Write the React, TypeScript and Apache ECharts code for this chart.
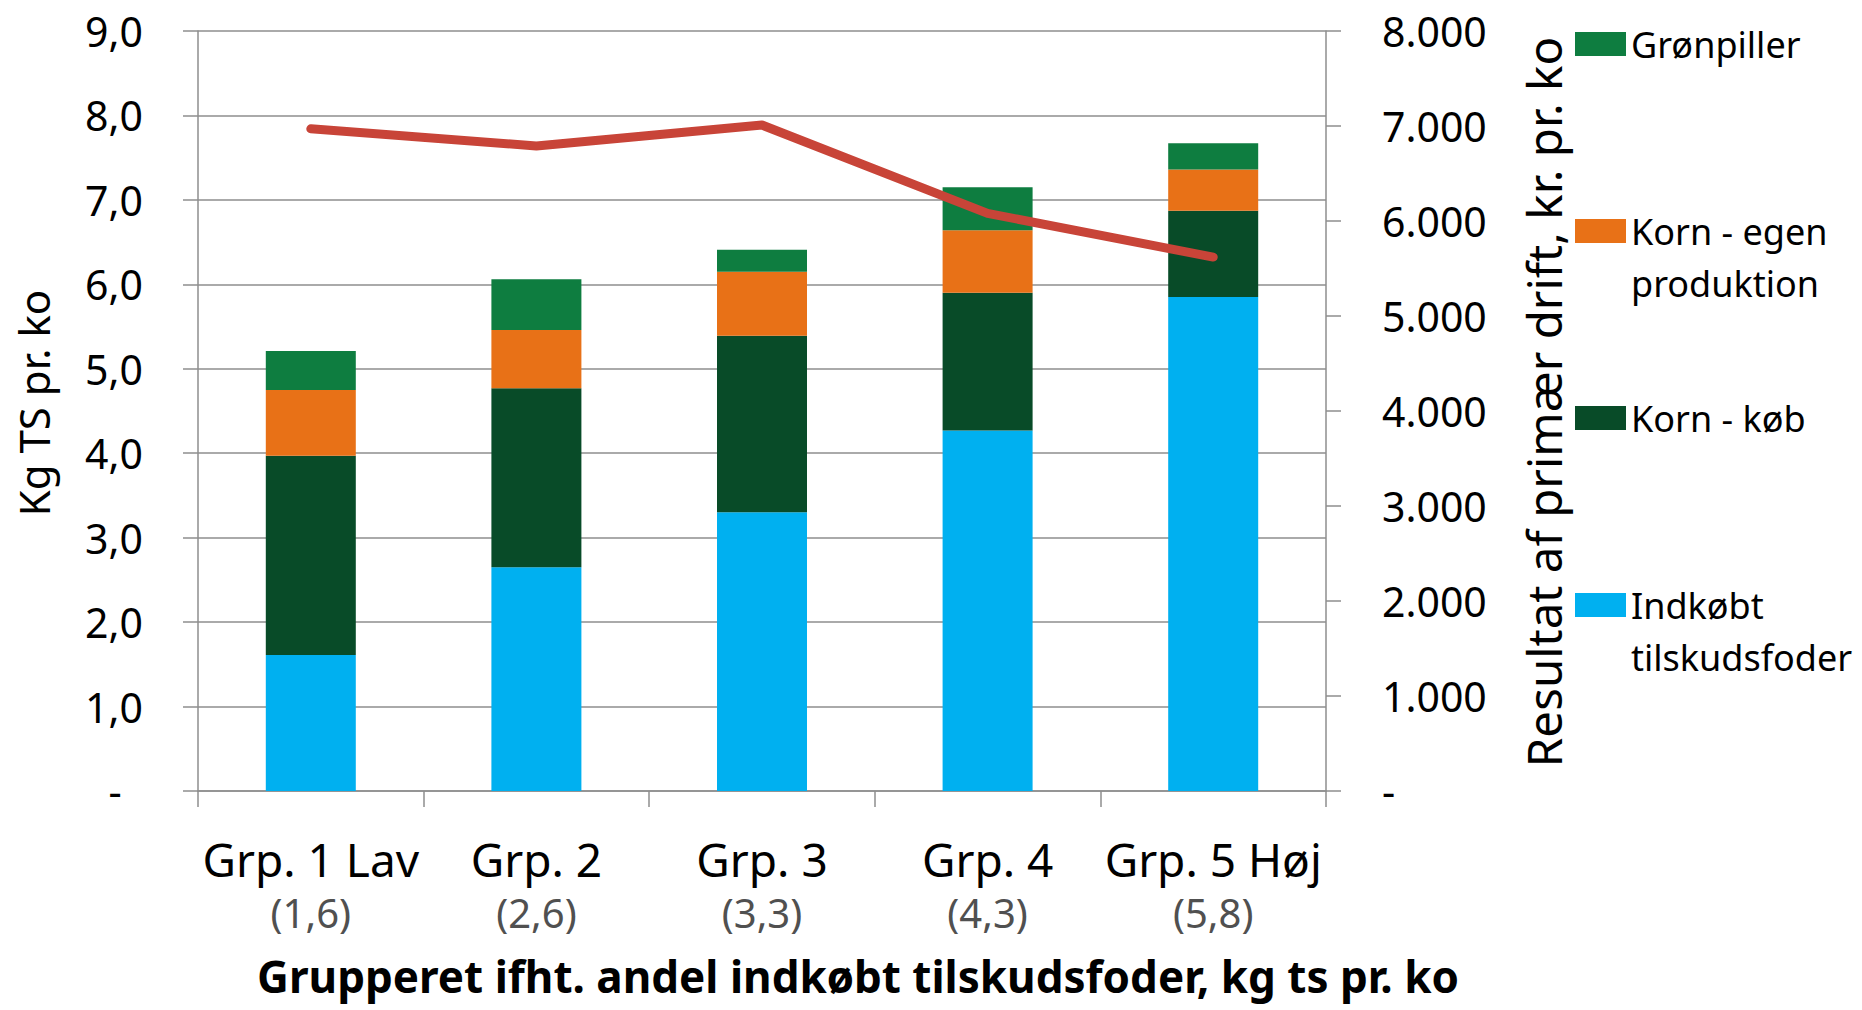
import React, { useEffect, useRef } from 'react';
import * as echarts from 'echarts';

const categories = ['Grp. 1 Lav', 'Grp. 2', 'Grp. 3', 'Grp. 4', 'Grp. 5 Høj'];
const subLabels = ['(1,6)', '(2,6)', '(3,3)', '(4,3)', '(5,8)'];
const indkobt = [1.61, 2.65, 3.3, 4.27, 5.85];
const kornKob = [2.36, 2.12, 2.09, 1.63, 1.02];
const kornEgen = [0.78, 0.69, 0.76, 0.74, 0.49];
const gronpiller = [0.46, 0.6, 0.26, 0.51, 0.31];
const resultat = [6970, 6790, 7010, 6080, 5620];

const seriesNames = ['Indkøbt tilskudsfoder', 'Korn - køb', 'Korn - egen produktion', 'Grønpiller'];
const legendText: Record<string, string> = {
  'Grønpiller': 'Grønpiller',
  'Korn - egen produktion': '\nKorn - egen\nproduktion',
  'Korn - køb': 'Korn - køb',
  'Indkøbt tilskudsfoder': '\nIndkøbt\ntilskudsfoder',
};
const colors = ['#00B0F0', '#084B28', '#E87117', '#0E7D40'];
const lineColor = '#C84438';
const FONT = "'Noto Sans', sans-serif";
const GRID = '#8e8e8e';

export default function App() {
  const ref = useRef<HTMLDivElement>(null);
  useEffect(() => {
    if (!ref.current) return;
    const chart = echarts.init(ref.current, undefined, { renderer: 'svg' });
    const barData = [indkobt, kornKob, kornEgen, gronpiller];
    const legendOrder = ['Grønpiller', 'Korn - egen produktion', 'Korn - køb', 'Indkøbt tilskudsfoder'];
    const legendTops = [18, 153, 392, 527];
    const legends = legendOrder.map((name, i) => ({
      show: true,
      orient: 'vertical',
      left: 1575,
      top: legendTops[i],
      padding: 0,
      itemWidth: 51,
      itemHeight: 24,
      icon: 'rect',
      selectedMode: false,
      data: [name],
      formatter: (n: string) => legendText[n],
      textStyle: {
        fontFamily: FONT,
        fontSize: 36,
        color: '#000',
        lineHeight: 52,
      },
    }));
    chart.setOption({
      animation: false,
      backgroundColor: '#fff',
      textStyle: { fontFamily: FONT },
      grid: { left: 198, right: 536, top: 31, bottom: 219, containLabel: false, outerBoundsMode: 'none' },
      legend: legends,
      xAxis: {
        type: 'category',
        data: categories,
        boundaryGap: true,
        name: 'Grupperet ifht. andel indkøbt tilskudsfoder, kg ts pr. ko',
        nameLocation: 'middle',
        nameGap: 163,
        nameTextStyle: {
          fontFamily: FONT,
          fontSize: 44,
          fontWeight: 'bold',
          color: '#000',
          padding: [0, 0, 0, 192],
        },
        axisLine: { show: true, lineStyle: { color: GRID, width: 1.5 } },
        axisTick: { show: true, length: 16, lineStyle: { color: GRID, width: 1.5 } },
        axisLabel: {
          interval: 0,
          margin: 40,
          formatter: (v: string, i: number) => `{a|${v}}\n{b|${subLabels[i]}}`,
          rich: {
            a: { fontFamily: FONT, fontSize: 46, lineHeight: 56, color: '#000' },
            b: { fontFamily: FONT, fontSize: 40, lineHeight: 50, color: '#505050' },
          },
        },
      },
      yAxis: [
        {
          type: 'value',
          min: 0,
          max: 9,
          interval: 1,
          name: 'Kg TS pr. ko',
          nameLocation: 'middle',
          nameGap: 144,
          nameTextStyle: { fontFamily: FONT, fontSize: 42, color: '#000', padding: [0, 0, 0, 16] },
          axisLine: { show: true, lineStyle: { color: GRID, width: 1.5 } },
          axisTick: { show: true, length: 15, lineStyle: { color: GRID, width: 1.5 } },
          splitLine: { show: true, lineStyle: { color: GRID, width: 1.5 } },
          axisLabel: {
            margin: 55,
            fontFamily: FONT,
            fontSize: 41,
            color: '#000',
            formatter: (v: number) => (v === 0 ? '-  ' : v.toFixed(1).replace('.', ',')),
          },
        },
        {
          type: 'value',
          position: 'right',
          min: 0,
          max: 8000,
          interval: 1000,
          name: 'Resultat af primær drift, kr. pr. ko',
          nameLocation: 'middle',
          nameGap: 193,
          nameTextStyle: { fontFamily: FONT, fontSize: 47.5, color: '#000', padding: [0, 0, 0, 18] },
          axisLine: { show: true, lineStyle: { color: GRID, width: 1.5 } },
          axisTick: { show: true, length: 15, lineStyle: { color: GRID, width: 1.5 } },
          splitLine: { show: false },
          axisLabel: {
            margin: 56,
            fontFamily: FONT,
            fontSize: 41,
            color: '#000',
            formatter: (v: number) => (v === 0 ? '-' : String(v).replace(/\B(?=(\d{3})+(?!\d))/g, '.')),
          },
        },
      ],
      series: [
        ...seriesNames.map((name, i) => ({
          name,
          type: 'bar',
          stack: 'ts',
          barWidth: 90,
          yAxisIndex: 0,
          itemStyle: { color: colors[i] },
          data: barData[i],
        })),
        {
          name: 'Resultat af primær drift',
          type: 'line',
          yAxisIndex: 1,
          symbol: 'none',
          lineStyle: { color: lineColor, width: 9, cap: 'round', join: 'round' },
          itemStyle: { color: lineColor },
          data: resultat,
          z: 5,
        },
      ],
    });
    return () => chart.dispose();
  }, []);
  return (
    <div
      ref={ref}
      style={{ position: 'fixed', left: 0, top: 0, width: 1862, height: 1010, background: '#fff' }}
    />
  );
}
